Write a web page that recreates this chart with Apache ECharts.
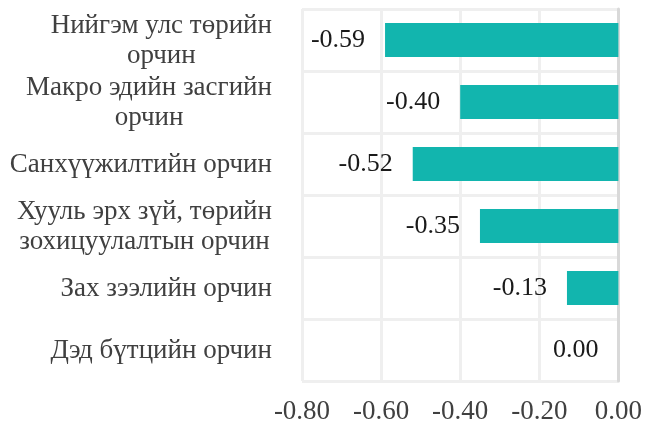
<!DOCTYPE html>
<html>
<head>
<meta charset="utf-8">
<script src="https://cdn.jsdelivr.net/npm/echarts@6/dist/echarts.min.js"></script>
<style>
  html, body { margin: 0; padding: 0; background: #fff; }
</style>
</head>
<body>
<div id="chart" style="width:645px;height:425px;"></div>
<script>
const categories = [
  'Нийгэм улс төрийн\nорчин',
  'Макро эдийн засгийн\nорчин',
  'Санхүүжилтийн орчин',
  'Хууль эрх зүй, төрийн\nзохицуулалтын орчин',
  'Зах зээлийн орчин',
  'Дэд бүтцийн орчин'
];
const values = [-0.59, -0.40, -0.52, -0.35, -0.13, 0.00];
const xTicks = [-0.8, -0.6, -0.4, -0.2, 0];

const font = 'Times New Roman, Liberation Serif, serif';
let chart = echarts.init(document.getElementById('chart'));

let option = {
  animation: false,
  textStyle: { fontFamily: font },
  grid: {
    left: 302,
    right: 26,
    top: 9,
    bottom: 43
  },
  xAxis: {
    type: 'value',
    min: xTicks[0],
    max: xTicks[xTicks.length - 1],
    interval: 0.2,
    axisLine: { show: false },
    axisTick: { show: false },
    axisLabel: {
      margin: 17,
      color: '#404040',
      fontFamily: font,
      fontSize: 27,
      formatter: v => v.toFixed(2)
    },
    splitLine: {
      lineStyle: { color: '#efefef', width: 3 }
    }
  },
  yAxis: [
    {
      type: 'category',
      inverse: true,
      data: categories,
      axisLine: { show: false },
      axisTick: { show: false },
      axisLabel: {
        margin: 30,
        formatter: v => v.split('\n').map(s => '{c|' + s + '}').join('\n'),
        rich: {
          c: {
            align: 'center',
            color: '#404040',
            fontFamily: font,
            fontSize: 27,
            lineHeight: 30,
            padding: [2, 0, 0, 0]
          }
        }
      },
      splitLine: {
        show: true,
        lineStyle: { color: '#efefef', width: 3 }
      }
    },
    {
      // zero line on the right edge
      type: 'category',
      position: 'right',
      inverse: true,
      data: categories,
      axisLine: { show: true, lineStyle: { color: '#d9d9d9', width: 3 } },
      axisTick: { show: false },
      axisLabel: { show: false },
      splitLine: { show: false }
    }
  ],
  series: [
    {
      type: 'bar',
      data: values,
      barWidth: '55%',
      itemStyle: {
        color: '#12b5ae'
      },
      label: {
        show: true,
        position: 'left',
        distance: 20,
        color: '#1a1a1a',
        fontFamily: font,
        fontSize: 26,
        formatter: p => p.value.toFixed(2)
      }
    }
  ]
};

chart.setOption(option);
</script>
</body>
</html>
